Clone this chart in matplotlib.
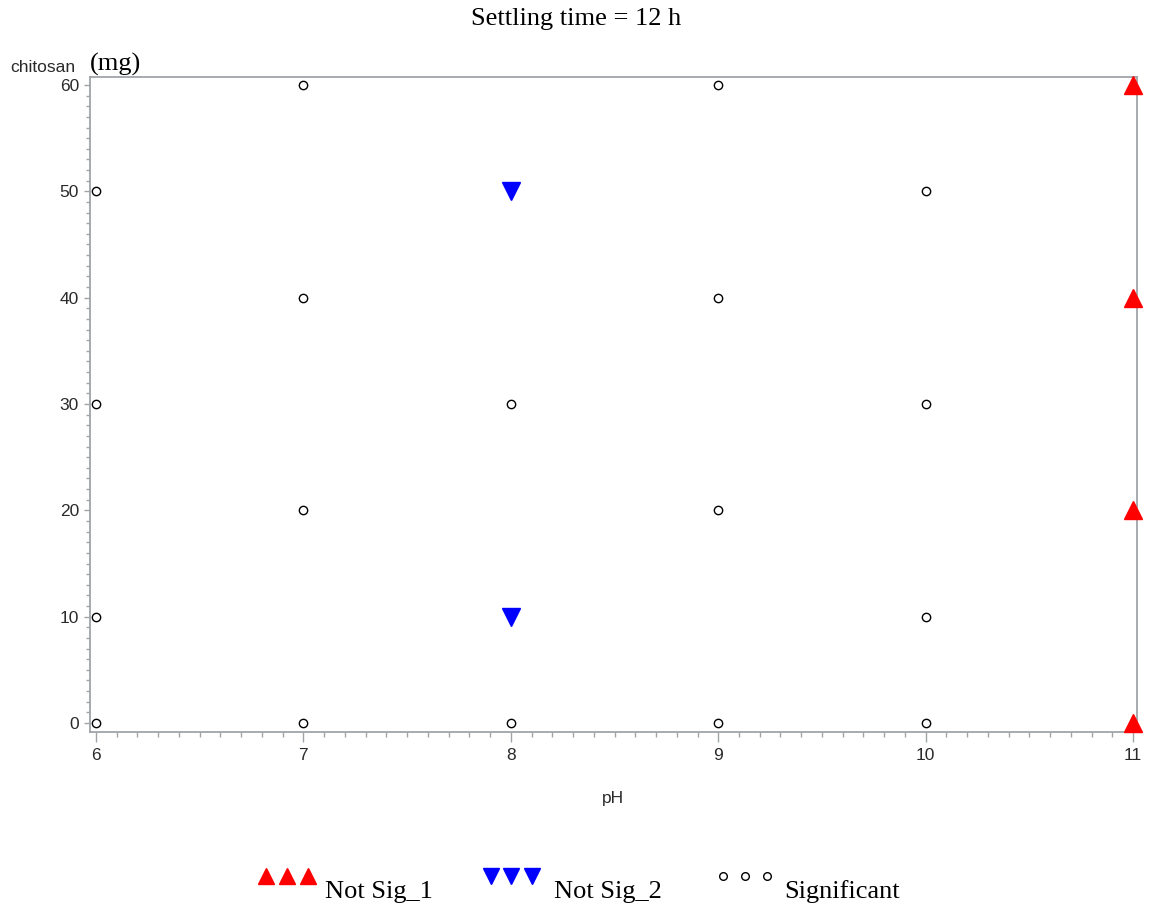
import numpy as np
import matplotlib.pyplot as plt
from matplotlib.lines import Line2D
from matplotlib.ticker import MultipleLocator

# pH / chitosan combinations by group
sig_ph = [6, 6, 6, 6, 7, 7, 7, 7, 8, 8, 9, 9, 9, 9, 10, 10, 10, 10]
sig_chit = [0, 10, 30, 50, 0, 20, 40, 60, 0, 30, 0, 20, 40, 60, 0, 10, 30, 50]
ns1_ph = [11, 11, 11, 11]
ns1_chit = [0, 20, 40, 60]
ns2_ph = [8, 8]
ns2_chit = [10, 50]

labels = ["Not Sig_1", "Not Sig_2", "Significant"]
serif = "Liberation Serif"
sans = "Liberation Sans"
frame = "#a0a4a8"
txt = "#2a2a2a"

fig = plt.figure(figsize=(11.52, 9.09), dpi=100)
ax = fig.add_axes([0.0781, 0.1947, 0.9089, 0.7206])

ax.plot(sig_ph, sig_chit, ls="none", marker="o", ms=6, mfc="white",
        mec="black", mew=1.0, clip_on=False, zorder=3)
ax.plot(ns1_ph, ns1_chit, ls="none", marker="^", ms=13, color="red",
        clip_on=False, zorder=3)
ax.plot(ns2_ph, ns2_chit, ls="none", marker="v", ms=13, color="blue",
        clip_on=False, zorder=3)

ax.set_xlim(5.971, 11.019)
ax.set_ylim(-0.846, 60.75)
ax.xaxis.set_major_locator(MultipleLocator(1))
ax.xaxis.set_minor_locator(MultipleLocator(0.1))
ax.yaxis.set_major_locator(MultipleLocator(10))
ax.yaxis.set_minor_locator(MultipleLocator(1))
for s in ax.spines.values():
    s.set_color(frame)
    s.set_linewidth(1.3)
ax.tick_params(which="both", color=frame, width=1, labelsize=12.5,
               labelcolor=txt)
ax.tick_params(axis="x", which="major", length=7.2, pad=4.3)
ax.tick_params(axis="x", which="minor", length=3.8)
ax.tick_params(axis="y", which="major", length=4.3, pad=3.6)
ax.tick_params(axis="y", which="minor", length=2.8)
for lab in ax.get_xticklabels() + ax.get_yticklabels():
    lab.set_fontfamily(sans)

ax.set_xlabel("pH", fontsize=12.5, family=sans, color=txt, va="center")
ax.xaxis.set_label_coords(0.4995, -0.1008)
fig.text(0.009, 0.926, "chitosan", fontsize=12.5, family=sans, color=txt,
         va="center")
fig.text(0.078, 0.929, "(mg)", fontsize=19, family=serif, va="center")
fig.text(0.5, 0.979, "Settling time = 12 h", fontsize=19, family=serif,
         ha="center", va="center")

# legend drawn at the bottom: three markers followed by the text
entries = [("^", "red", "red", 12, 0.231, 0.0180, 0.282),
           ("v", "blue", "blue", 12, 0.426, 0.0178, 0.481),
           ("o", "white", "black", 5.5, 0.628, 0.0187, 0.681)]
for (m, fc, ec, ms, x0, dx, xt), lab in zip(entries, labels):
    for i in range(3):
        fig.add_artist(Line2D([x0 + i * dx], [0.0365],
                              transform=fig.transFigure, marker=m, ms=ms,
                              mfc=fc, mec=ec, mew=1.0, ls="none"))
    fig.text(xt, 0.0125, lab, fontsize=19, family=serif, va="baseline")
fig.savefig("out.png")
